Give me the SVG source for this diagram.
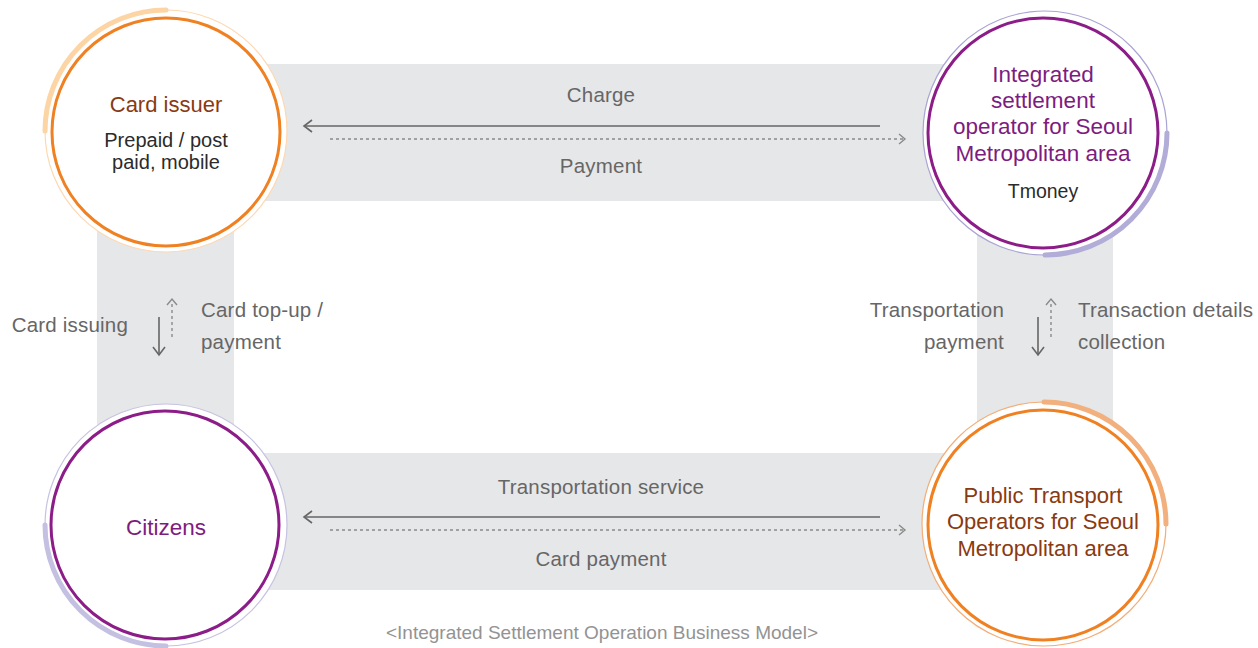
<svg xmlns="http://www.w3.org/2000/svg" width="1258" height="648" viewBox="0 0 1258 648">
<defs>
<style>
.band{fill:#e6e7e8}
.t{font-family:"Liberation Sans",Arial,sans-serif}
.lbl{font-size:20.5px;fill:#666;letter-spacing:0.2px}
.brown{font-size:22px;fill:#8a3a10}
.purple{font-size:22.5px;fill:#7d1c7f}
.dark{font-size:20px;fill:#2b2b2b}
.solid{stroke:#666;stroke-width:1.6;fill:none}
.dot{stroke:#8a8a8a;stroke-width:1.4;fill:none;stroke-dasharray:3 3}
.head{stroke:#666;stroke-width:1.6;fill:none}
.headd{stroke:#8a8a8a;stroke-width:1.4;fill:none}
.inO{fill:#fff;stroke:#f08122;stroke-width:3}
.inP{fill:#fff;stroke:#8c1d88;stroke-width:3}
</style>
</defs>
<rect width="1258" height="648" fill="#fff"/>
<g id="bands">
<rect class="band" x="166" y="64" width="877" height="137"/>
<rect class="band" x="166" y="453" width="877" height="137"/>
<rect class="band" x="97" y="131" width="137" height="394"/>
<rect class="band" x="977" y="133" width="136" height="392"/>
</g>
<g id="connectors">
<line class="solid" x1="880" y1="126" x2="304" y2="126"/>
<polyline class="head" points="312,120 304,126 312,132"/>
<line class="dot" x1="330" y1="139" x2="904" y2="139"/>
<polyline class="headd" points="899,134 905,139 899,144"/>
<line class="solid" x1="880" y1="517" x2="304" y2="517"/>
<polyline class="head" points="312,511 304,517 312,523"/>
<line class="dot" x1="330" y1="530" x2="904" y2="530"/>
<polyline class="headd" points="899,525 905,530 899,535"/>
<line class="solid" x1="159" y1="317" x2="159" y2="354"/>
<polyline class="head" points="153,347 159,355 165,347"/>
<line class="dot" x1="172" y1="337" x2="172" y2="301"/>
<polyline class="headd" points="167,305 172,299 177,305"/>
<line class="solid" x1="1038" y1="317" x2="1038" y2="354"/>
<polyline class="head" points="1032,347 1038,355 1044,347"/>
<line class="dot" x1="1051" y1="337" x2="1051" y2="301"/>
<polyline class="headd" points="1046,305 1051,299 1056,305"/>
</g>
<g id="labels" class="t">
<text class="lbl" x="601" y="102" text-anchor="middle">Charge</text>
<text class="lbl" x="601" y="173" text-anchor="middle">Payment</text>
<text class="lbl" x="601" y="494" text-anchor="middle">Transportation service</text>
<text class="lbl" x="601" y="566" text-anchor="middle">Card payment</text>
<text class="lbl" x="128" y="332" text-anchor="end">Card issuing</text>
<text class="lbl" x="201" y="317">Card top-up /</text>
<text class="lbl" x="201" y="349">payment</text>
<text class="lbl" x="1004" y="317" text-anchor="end">Transportation</text>
<text class="lbl" x="1004" y="349" text-anchor="end">payment</text>
<text class="lbl" x="1078" y="317">Transaction details</text>
<text class="lbl" x="1078" y="349">collection</text>
<text x="602" y="639" text-anchor="middle" style="font-family:'Liberation Sans',Arial,sans-serif;font-size:19px;fill:#939393">&lt;Integrated Settlement Operation Business Model&gt;</text>
</g>
<g id="card-issuer">
<circle cx="166" cy="131" r="121" fill="#fff" stroke="#fdd8b2" stroke-width="1.2"/>
<path d="M166,10 A121,121 0 0,0 45,131" fill="none" stroke="#fdd4a4" stroke-width="5" stroke-linecap="round"/>
<circle class="inO" cx="166" cy="132" r="114"/>
<text class="t brown" x="166" y="112" text-anchor="middle">Card issuer</text>
<text class="t dark" x="166" y="147" text-anchor="middle">Prepaid / post</text>
<text class="t dark" x="166" y="169" text-anchor="middle">paid, mobile</text>
</g>
<g id="settlement-operator">
<circle cx="1045" cy="133" r="122" fill="#fff" stroke="#aaa4d4" stroke-width="1.2"/>
<path d="M1167,133 A122,122 0 0,1 1045,255" fill="none" stroke="#b2acd8" stroke-width="5" stroke-linecap="round"/>
<circle class="inP" cx="1043" cy="133" r="115"/>
<text class="t purple" x="1043" y="82" text-anchor="middle">Integrated</text>
<text class="t purple" x="1043" y="108" text-anchor="middle">settlement</text>
<text class="t purple" x="1043" y="134" text-anchor="middle">operator for Seoul</text>
<text class="t purple" x="1043" y="161" text-anchor="middle">Metropolitan area</text>
<text class="t dark" x="1043" y="198" text-anchor="middle" style="font-size:19.5px">Tmoney</text>
</g>
<g id="citizens">
<circle cx="166" cy="525" r="121" fill="#fff" stroke="#c6c2e2" stroke-width="1.2"/>
<path d="M45,525 A121,121 0 0,0 166,646" fill="none" stroke="#c4c0e1" stroke-width="5" stroke-linecap="round"/>
<circle class="inP" cx="165" cy="525" r="114"/>
<text class="t purple" x="166" y="535" text-anchor="middle">Citizens</text>
</g>
<g id="public-transport">
<circle cx="1044" cy="524" r="122" fill="#fff" stroke="#f3ad78" stroke-width="1.2"/>
<path d="M1044,402 A122,122 0 0,1 1166,524" fill="none" stroke="#f1b07e" stroke-width="5" stroke-linecap="round"/>
<circle class="inO" cx="1043" cy="525" r="115"/>
<text class="t brown" x="1043" y="503" text-anchor="middle">Public Transport</text>
<text class="t brown" x="1043" y="529" text-anchor="middle">Operators for Seoul</text>
<text class="t brown" x="1043" y="556" text-anchor="middle">Metropolitan area</text>
</g>
</svg>
